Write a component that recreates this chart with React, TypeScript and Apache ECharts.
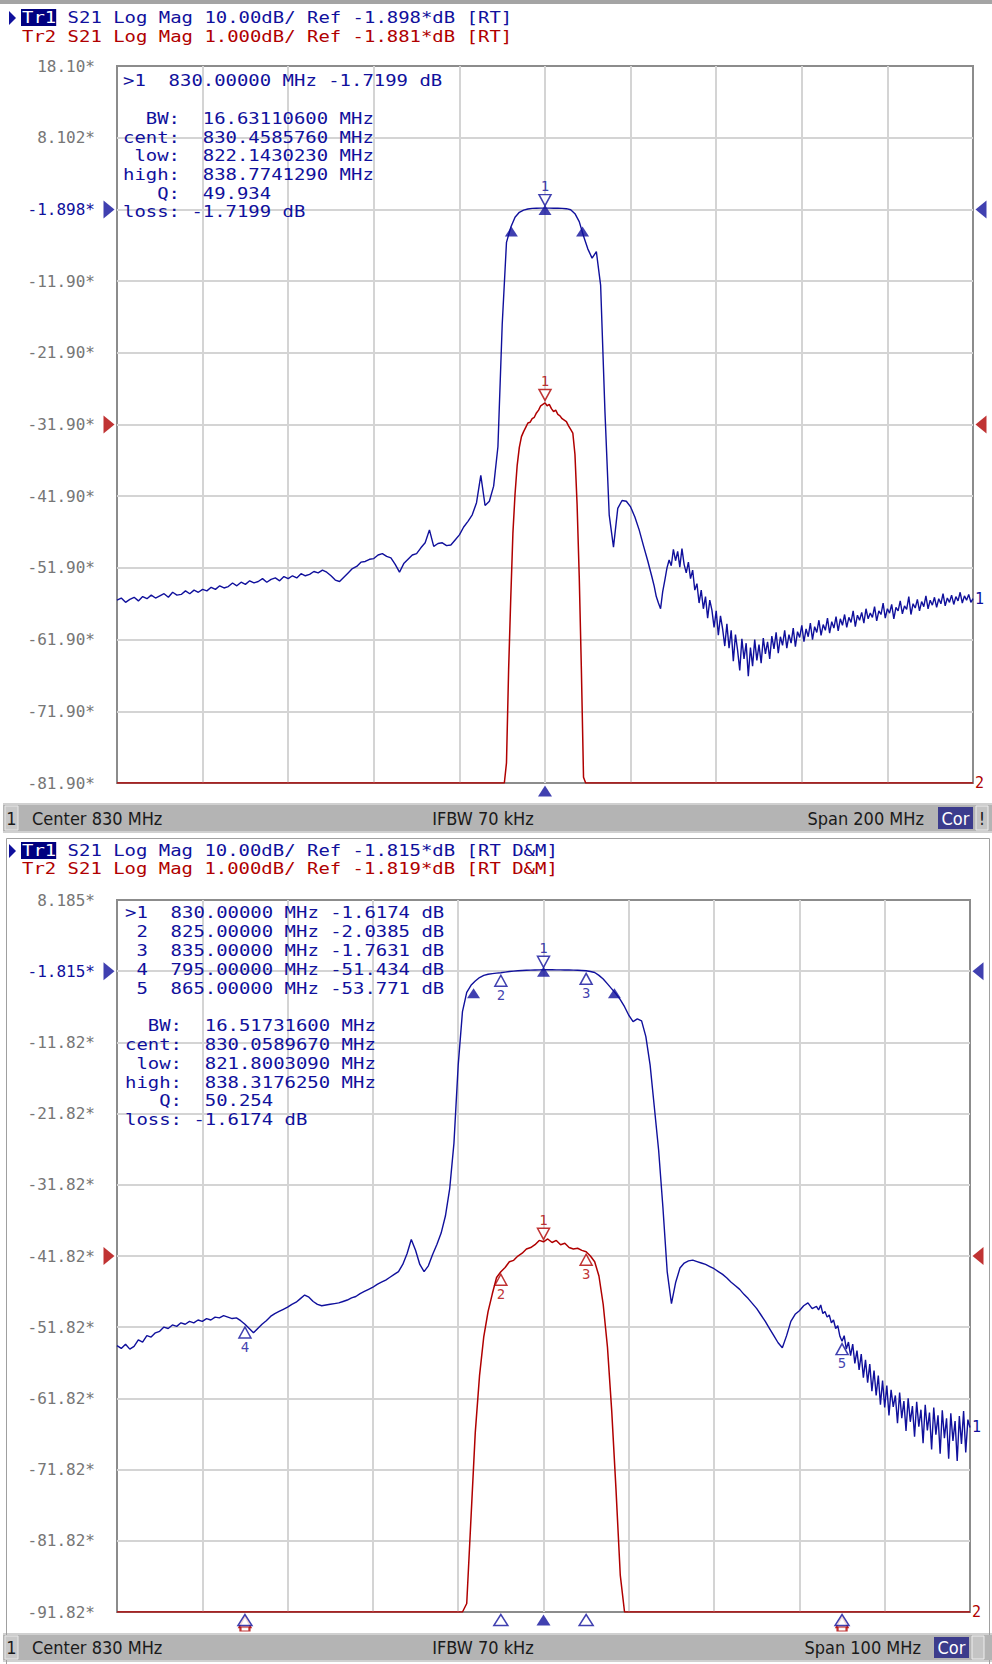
import React, { useEffect, useRef } from "react";
import * as echarts from "echarts";

// ---------------- colours ----------------
const BLUE = "#10109c";
const RED = "#b00000";
const GRID_GRAY = "#d4d4d4";
const LABEL_GRAY = "#767676";

// ---------------- window 1 (top) ----------------
const W1_START_MHZ = 730;
const W1_STOP_MHZ = 930;
// Tr1 S21, 10 dB/div — segment A: 730 .. 855 MHz, 1 MHz step
const W1_TR1_A_START = 730;
const W1_TR1_A_STEP = 1;
const W1_TR1_A_DB = [
  -56.4, -56.1, -56.7, -56.3, -56.0, -56.5, -55.9, -56.2, -55.7, -56.1,
  -55.8, -55.5, -56.0, -55.3, -55.7, -55.6, -55.1, -55.5, -55.0, -55.3,
  -54.9, -55.1, -54.6, -54.9, -54.4, -54.7, -54.5, -54.0, -54.4, -53.9,
  -54.2, -53.7, -54.0, -53.8, -53.4, -53.9, -53.5, -53.3, -53.7, -53.1,
  -53.4, -53.0, -53.3, -52.7, -53.0, -52.8, -52.4, -52.6, -52.2, -52.5,
  -53.0, -53.6, -53.8, -53.2, -52.6, -52.0, -51.7, -51.1, -51.0, -50.7,
  -50.6, -50.1, -49.9, -50.3, -50.5, -51.4, -52.5, -51.3, -50.7, -50.1,
  -49.9, -49.1, -48.4, -46.6, -48.9, -48.5, -48.4, -48.8, -48.7, -48.0,
  -47.3, -46.2, -45.4, -44.5, -42.8, -39.0, -43.2, -42.6, -40.5, -35.0,
  -18.0, -6.5, -4.4, -3.0, -2.3, -2.0, -1.85, -1.76, -1.73, -1.72,
  -1.72, -1.72, -1.73, -1.74, -1.76, -1.8, -1.95, -2.5, -3.6, -5.6,
  -7.4, -8.7, -7.8, -12.5, -30.0, -44.5, -49.0, -43.6, -42.5, -42.6,
  -43.4, -44.8, -46.6, -48.8, -50.9, -53.2,
];
// segment B: 855.5 .. 930 MHz, 0.5 MHz step (noisy stop band)
const W1_TR1_B_START = 855.5;
const W1_TR1_B_STEP = 0.5;
const W1_TR1_B_DB = [
  -54.4, -55.9, -56.8, -57.6, -55.2, -53.6, -51.9, -50.8, -51.6,
  -49.3, -50.9, -49.6, -51.8, -49.2, -51.4, -52.6, -51.1, -53.4, -52.2,
  -55.0, -54.1, -56.8, -55.0, -57.6, -55.9, -58.9, -56.4, -57.8, -60.2,
  -57.9, -61.3, -58.6, -60.4, -62.8, -59.7, -63.1, -60.6, -64.9, -61.2,
  -63.4, -66.2, -61.8, -64.6, -62.4, -67.0, -63.0, -65.6, -61.9, -64.8,
  -62.6, -65.2, -61.7, -63.9, -62.2, -64.6, -61.4, -63.2, -60.9, -63.8,
  -61.5, -62.7, -60.6, -63.1, -61.2, -62.4, -60.3, -62.9, -60.8, -61.6,
  -59.9, -62.2, -60.4, -61.5, -59.6, -61.9, -60.1, -60.9, -59.2, -61.3,
  -59.8, -60.6, -58.9, -61.0, -59.4, -60.3, -58.7, -60.7, -59.0, -59.9,
  -58.4, -60.2, -58.8, -59.5, -57.9, -60.1, -58.5, -59.2, -58.1, -59.6,
  -57.6, -59.0, -58.2, -58.8, -57.3, -59.3, -57.9, -58.4, -56.8, -58.9,
  -57.6, -58.2, -57.0, -59.0, -57.4, -57.9, -56.5, -58.3, -57.2, -57.7,
  -55.9, -58.4, -56.9, -57.5, -56.3, -57.9, -56.6, -57.3, -55.8, -57.6,
  -56.4, -57.1, -56.0, -57.4, -56.2, -56.9, -55.5, -57.2, -56.1, -56.7,
  -55.7, -57.0, -55.9, -56.5, -55.3, -56.8, -55.8, -56.4, -55.6, -56.7,
  -56.2,
];
// Tr2 S21, 1 dB/div, [MHz, dB]
const W1_TR2 = [
  [730, -56.5], [819, -35], [820.5, -12], [821.0, -6.6], [821.5, -5.3], [822.0, -4.3],
  [822.5, -3.4], [823.0, -2.85], [823.5, -2.45], [824.0, -2.2], [824.5, -2.05], [825, -1.98],
  [825.5, -1.92], [826, -1.86], [826.5, -1.85], [827, -1.8], [827.5, -1.78], [828, -1.72],
  [828.5, -1.68], [829, -1.62], [829.5, -1.6], [830, -1.58], [830.5, -1.62], [831, -1.6],
  [831.5, -1.66], [832, -1.7], [832.5, -1.68], [833, -1.74], [833.5, -1.76], [834, -1.8],
  [834.5, -1.82], [835, -1.84], [835.5, -1.9], [836, -1.95], [836.5, -2.0], [837, -2.3],
  [837.5, -3.0], [838, -4.0], [838.5, -5.3], [839, -6.8], [839.5, -12], [845, -48], [930, -56.5],
];
const W1_TR1_SCALE = [-81.9, 18.1];
const W1_TR2_SCALE = [-6.881, 3.119];
const W1_TR1_REF = -1.898;
const W1_TR2_REF = -1.881;
const W1_TICKS = ["18.10*", "8.102*", "-1.898*", "-11.90*", "-21.90*", "-31.90*", "-41.90*", "-51.90*", "-61.90*", "-71.90*", "-81.90*"];
const W1_REF_TICK = 2;
const W1_TR1_MARKERS = [["1", 830, -1.7199]];
const W1_TR2_MARKERS = [["1", 830, -1.58]];
const W1_BW_POINTS = [[822.143023, -4.7199], [830, -1.7199], [838.774129, -4.7199]];
const W1_HEADER = [
  "Tr1 S21 Log Mag 10.00dB/ Ref -1.898*dB [RT]",
  "Tr2 S21 Log Mag 1.000dB/ Ref -1.881*dB [RT]",
];
const W1_INFO = [
  ">1  830.00000 MHz -1.7199 dB",
  "",
  "  BW:  16.63110600 MHz",
  "cent:  830.4585760 MHz",
  " low:  822.1430230 MHz",
  "high:  838.7741290 MHz",
  "   Q:  49.934",
  "loss: -1.7199 dB",
];
const W1_STATUS = ["1", "Center 830 MHz", "IFBW 70 kHz", "Span 200 MHz", "Cor", "!"];

// ---------------- window 2 (bottom) ----------------
const W2_START_MHZ = 780;
const W2_STOP_MHZ = 880;
// segment A: 780 .. 862 MHz, 0.5 MHz step
const W2_TR1_A_START = 780;
const W2_TR1_A_STEP = 0.5;
const W2_TR1_A_DB = [
  -54.4, -54.8, -54.2, -54.9, -54.5, -53.6, -53.9, -53.0, -53.2, -52.6,
  -52.4, -51.8, -52.0, -51.5, -51.7, -51.2, -51.4, -51.0, -51.2, -50.8,
  -51.0, -50.6, -50.8, -50.4, -50.5, -50.2, -50.4, -50.6, -50.5, -50.9,
  -51.4, -52.0, -52.6, -52.0, -51.4, -50.9, -50.3, -49.9, -49.6, -49.3,
  -49.0, -48.6, -48.3, -47.8, -47.3, -47.6, -48.2, -48.6, -48.8, -48.7,
  -48.6, -48.5, -48.4, -48.2, -48.0, -47.7, -47.5, -47.1, -46.8, -46.5,
  -46.2, -45.8, -45.5, -45.2, -44.8, -44.4, -44.0, -43.0, -41.5, -39.5,
  -41.0, -43.0, -44.0, -43.2, -41.6, -40.2, -38.6, -36.2, -32.4, -26.0,
  -15.0, -7.5, -4.8, -3.8, -3.2, -2.7, -2.4, -2.25, -2.15, -2.08,
  -2.04, -1.95, -1.86, -1.8, -1.75, -1.71, -1.68, -1.66, -1.64, -1.63,
  -1.62, -1.62, -1.62, -1.63, -1.63, -1.64, -1.65, -1.66, -1.68, -1.72,
  -1.76, -1.85, -2.0, -2.4, -2.9, -3.6, -4.3, -5.0, -5.8, -6.8,
  -8.0, -8.9, -8.5, -8.8, -11.0, -15.0, -21.0, -27.0, -35.0, -44.0,
  -48.5, -45.5, -43.5, -42.8, -42.5, -42.4, -42.6, -42.8, -43.0, -43.3,
  -43.6, -44.0, -44.4, -44.9, -45.5, -46.0, -46.5, -47.2, -47.8, -48.5,
  -49.2, -50.1, -51.0, -52.0, -53.0, -54.0, -54.7, -53.0, -51.0, -50.0,
  -49.5, -48.8, -48.4, -49.2, -48.9,
];
// segment B: 862.25 .. 880 MHz, 0.25 MHz step (noisy)
const W2_TR1_B_START = 862.25;
const W2_TR1_B_STEP = 0.25;
const W2_TR1_B_DB = [
  -49.4, -48.7, -49.9,
  -49.6, -50.4, -50.1, -51.2, -50.8, -52.0, -51.6, -53.1,
  -53.8, -53.0, -54.9, -53.9, -55.8, -54.2, -56.9, -55.1,
  -57.8, -55.6, -58.9, -56.4, -59.6, -57.0, -60.8, -57.9,
  -61.4, -58.6, -62.7, -59.3, -63.1, -60.0, -64.2, -60.6,
  -63.0, -61.4, -65.3, -61.0, -64.6, -62.2, -66.4, -61.8,
  -65.1, -62.9, -67.2, -62.3, -65.8, -63.4, -68.1, -62.7,
  -66.3, -63.8, -69.0, -63.1, -66.9, -64.2, -69.6, -63.5,
  -67.4, -64.6, -70.3, -63.9, -67.8, -65.0, -70.6, -64.3,
  -68.2, -63.6, -69.4, -64.8, -65.9,
];
const W2_TR2 = [
  [780, -54.4], [819.5, -26], [820.5, -7.5], [821, -6.7], [821.5, -5.5], [822, -4.3],
  [822.5, -3.5], [823, -2.95], [823.5, -2.6], [824, -2.35], [824.5, -2.12], [825, -2.04],
  [825.5, -1.98], [826, -1.9], [826.5, -1.88], [827, -1.82], [827.5, -1.78], [828, -1.72],
  [828.5, -1.7], [829, -1.66], [829.5, -1.6], [830, -1.62], [830.5, -1.58], [831, -1.63],
  [831.5, -1.6], [832, -1.66], [832.5, -1.64], [833, -1.7], [833.5, -1.72], [834, -1.71],
  [834.5, -1.74], [835, -1.76], [835.5, -1.82], [836, -1.9], [836.5, -2.1], [837, -2.5],
  [837.5, -3.1], [838, -4.0], [838.5, -5.1], [839, -6.3], [839.5, -7.5], [844.5, -44], [880, -64],
];
const W2_TR1_SCALE = [-91.815, 8.185];
const W2_TR2_SCALE = [-6.819, 3.181];
const W2_TR1_REF = -1.815;
const W2_TR2_REF = -1.819;
const W2_TICKS = ["8.185*", "-1.815*", "-11.82*", "-21.82*", "-31.82*", "-41.82*", "-51.82*", "-61.82*", "-71.82*", "-81.82*", "-91.82*"];
const W2_REF_TICK = 1;
const W2_TR1_MARKERS = [["1", 830, -1.6174], ["2", 825, -2.0385], ["3", 835, -1.7631], ["4", 795, -51.434], ["5", 865, -53.771]];
const W2_TR2_MARKERS = [["1", 830, -1.62], ["2", 825, -2.04], ["3", 835, -1.76], ["4", 795, -51.43], ["5", 865, -53.77]];
const W2_BW_POINTS = [[821.800309, -4.6174], [830, -1.6174], [838.317625, -4.6174]];
const W2_HEADER = [
  "Tr1 S21 Log Mag 10.00dB/ Ref -1.815*dB [RT D&M]",
  "Tr2 S21 Log Mag 1.000dB/ Ref -1.819*dB [RT D&M]",
];
const W2_INFO = [
  ">1  830.00000 MHz -1.6174 dB",
  " 2  825.00000 MHz -2.0385 dB",
  " 3  835.00000 MHz -1.7631 dB",
  " 4  795.00000 MHz -51.434 dB",
  " 5  865.00000 MHz -53.771 dB",
  "",
  "  BW:  16.51731600 MHz",
  "cent:  830.0589670 MHz",
  " low:  821.8003090 MHz",
  "high:  838.3176250 MHz",
  "   Q:  50.254",
  "loss: -1.6174 dB",
];
const W2_STATUS = ["1", "Center 830 MHz", "IFBW 70 kHz", "Span 100 MHz", "Cor", ""];

// ---------------- drawing helpers ----------------
const MONO = '"DejaVu Sans Mono", "Liberation Mono", monospace';
const CW = 11.4;
const SX = CW / (16 * 0.602);
const DOWN_TRI = "path://M0,0L12,0L6,11Z";
const UP_TRI = "path://M6,0L12,11L0,11Z";
const RIGHT_TRI = "path://M0,0L10,8L0,16Z";
const LEFT_TRI = "path://M10,0L0,8L10,16Z";

function monoLine(str: string, x0: number, y: number, color: string, out: any[]) {
  const re = /\S+/g;
  let m: RegExpExecArray | null;
  while ((m = re.exec(str))) {
    out.push({
      type: "text",
      x: x0 + m.index * CW,
      y,
      scaleX: SX,
      z: 20,
      silent: true,
      style: { text: m[0], fill: color, font: `16px ${MONO}`, verticalAlign: "middle", textVerticalAlign: "middle" },
    });
  }
}

function statusBar(items: string[], y: number, h: number, spanRight: number, corX: number, out: any[]) {
  const font = '18px "Liberation Sans Narrow", "DejaVu Sans Condensed", sans-serif';
  const cy = y + h / 2;
  out.push({ type: "rect", shape: { x: 3, y: y - 2, width: 989, height: h + 4 }, style: { fill: "#d0d0d0" }, z: 1 });
  out.push({ type: "rect", shape: { x: 3, y, width: 989, height: h }, style: { fill: "#b4b4b4" }, z: 2 });
  out.push({ type: "rect", shape: { x: 5, y: y + 1, width: 13, height: h - 2 }, style: { fill: "#c8c8c8", stroke: "#e8e8e8", lineWidth: 1 }, z: 3 });
  const t = (text: string, x: number, align: string, fill = "#1a1a1a") => ({
    type: "text", x, y: cy, z: 4,
    style: { text, fill, font, align, textAlign: align, verticalAlign: "middle", textVerticalAlign: "middle" },
  });
  out.push(t(items[0], 11.5, "center"));
  out.push(t(items[1], 32, "left"));
  out.push(t(items[2], 483, "center"));
  out.push(t(items[3], spanRight, "right"));
  out.push({ type: "rect", shape: { x: corX, y: y + 2, width: 35, height: h - 4 }, style: { fill: "#3c3c8c" }, z: 3 });
  out.push(t(items[4], corX + 17.5, "center", "#ffffff"));
  out.push({ type: "rect", shape: { x: corX + 38, y: y + 1, width: 12, height: h - 2 }, style: { fill: "#c4c4c4", stroke: "#eeeeee", lineWidth: 1 }, z: 3 });
  out.push(t(items[5], corX + 44, "center"));
}

function header(lines: string[], x0: number, y1: number, y2: number, out: any[]) {
  out.push({ type: "polygon", shape: { points: [[9, y1 - 7], [16, y1], [9, y1 + 7]] }, style: { fill: BLUE }, z: 20 });
  out.push({ type: "rect", shape: { x: x0 - 1, y: y1 - 9, width: 3 * CW + 1, height: 17 }, style: { fill: "#000080" }, z: 19 });
  monoLine(lines[0].slice(0, 3), x0, y1, "#ffffff", out);
  monoLine("   " + lines[0].slice(3), x0, y1, BLUE, out);
  monoLine(lines[1], x0, y2, RED, out);
}

function clampPairs(pairs: number[][], scale: number[]) {
  return pairs.map(([f, v]) => [f, Math.min(scale[1], Math.max(scale[0], v))]);
}

function sweep(segments: { start: number; step: number; values: number[] }[]) {
  const out: number[][] = [];
  segments.forEach((s) => s.values.forEach((v, i) => out.push([s.start + i * s.step, v])));
  return out;
}

type Panel = {
  start: number; stop: number;
  tr1: number[][]; tr2: number[][];
  tr1Scale: number[]; tr2Scale: number[];
  tr1Ref: number; tr2Ref: number;
  ticks: string[]; refTick: number;
  tr1Markers: any[]; tr2Markers: any[]; bw: number[][];
  grid: { left: number; top: number; width: number; height: number };
};

function buildPanel(p: Panel, g: number, xAxis: any[], yAxis: any[], series: any[], grids: any[]) {
  grids.push({
    left: p.grid.left, top: p.grid.top, width: p.grid.width, height: p.grid.height,
    show: true, borderColor: "#8c8c8c", borderWidth: 2, backgroundColor: "#ffffff",
  });
  const xi = g * 2;
  const yi = g * 3;
  const split = { show: true, showMinLine: false, showMaxLine: false, lineStyle: { color: GRID_GRAY, width: 2 } };
  xAxis.push({ type: "value", gridIndex: g, min: p.start, max: p.stop, show: false });
  xAxis.push({
    type: "value", gridIndex: g, min: 0, max: 10, interval: 1,
    axisLine: { show: false }, axisTick: { show: false }, axisLabel: { show: false }, splitLine: split,
  });
  yAxis.push({ type: "value", gridIndex: g, min: p.tr1Scale[0], max: p.tr1Scale[1], show: false });
  yAxis.push({ type: "value", gridIndex: g, min: p.tr2Scale[0], max: p.tr2Scale[1], show: false });
  yAxis.push({
    type: "value", gridIndex: g, min: 0, max: 10, interval: 1, position: "left", offset: 0,
    axisLine: { show: false }, axisTick: { show: false }, splitLine: split,
    axisLabel: {
      margin: 22, fontFamily: MONO, fontSize: 16, color: LABEL_GRAY,
      formatter: (v: number) => {
        const idx = 10 - Math.round(v);
        const s = p.ticks[idx];
        return idx === p.refTick ? `{ref|${s}}` : s;
      },
      rich: { ref: { color: BLUE, fontFamily: MONO, fontSize: 16 } },
    },
  });

  const tr2Data = clampPairs(p.tr2, p.tr2Scale);
  const endLabel = (txt: string, color: string) => ({
    show: true, formatter: txt, color, fontFamily: MONO, fontSize: 15, distance: 2,
  });
  series.push({
    type: "line", xAxisIndex: xi, yAxisIndex: yi, data: p.tr1, symbol: "none", silent: true, z: 3,
    lineStyle: { color: BLUE, width: 1.4 }, itemStyle: { color: BLUE }, endLabel: endLabel("1", BLUE),
  });
  series.push({
    type: "line", xAxisIndex: xi, yAxisIndex: yi + 1, data: tr2Data, symbol: "none", silent: true, z: 4,
    lineStyle: { color: RED, width: 1.5 }, itemStyle: { color: RED }, endLabel: endLabel("2", RED),
  });

  const markerItems = (list: any[], scale: number[], color: string) =>
    list.map(([id, f, db], k) => {
      const clamped = db < scale[0];
      const active = k === 0;
      return {
        name: id,
        value: [f, clamped ? scale[0] : db],
        symbol: active ? DOWN_TRI : UP_TRI,
        symbolSize: [12, 11],
        symbolOffset: clamped ? [0, 10] : active ? [0, -8] : [0, 8],
        itemStyle: { color: "#ffffff", borderColor: color, borderWidth: 1.5 },
        label: {
          show: !clamped, position: active ? "top" : "bottom", distance: 1,
          formatter: "{b}", color, fontFamily: MONO, fontSize: 14,
        },
      };
    });
  series.push({
    type: "scatter", xAxisIndex: xi, yAxisIndex: yi, clip: false, silent: true, z: 6,
    data: markerItems(p.tr1Markers, p.tr1Scale, BLUE),
  });
  series.push({
    type: "scatter", xAxisIndex: xi, yAxisIndex: yi + 1, clip: false, silent: true, z: 6,
    data: markerItems(p.tr2Markers, p.tr2Scale, RED),
  });
  // off-scale Tr2 markers: small box under the triangle
  series.push({
    type: "scatter", xAxisIndex: xi, yAxisIndex: yi + 1, clip: false, silent: true, z: 6,
    symbol: "rect", symbolSize: [9, 4], symbolOffset: [0, 17],
    itemStyle: { color: "#ffffff", borderColor: RED, borderWidth: 1.5 },
    data: p.tr2Markers.filter((m: any) => m[2] < p.tr2Scale[0]).map((m: any) => [m[1], p.tr2Scale[0]]),
  });
  // bandwidth search points (filled)
  series.push({
    type: "scatter", xAxisIndex: xi, yAxisIndex: yi, clip: false, silent: true, z: 7,
    symbol: "triangle", symbolSize: [13, 10], symbolOffset: [0, 2],
    itemStyle: { color: BLUE }, data: p.bw,
  });
  // stimulus indicators below the grid
  series.push({
    type: "scatter", xAxisIndex: xi, yAxisIndex: yi, clip: false, silent: true, z: 7,
    symbol: UP_TRI, symbolSize: [14, 11], symbolOffset: [0, 8],
    data: p.tr1Markers.map(([id, f], k) => ({
      value: [f, p.tr1Scale[0]],
      itemStyle: k === 0 ? { color: BLUE } : { color: "#ffffff", borderColor: BLUE, borderWidth: 1.5 },
    })),
  });
  // reference level arrows
  const refArrows = (yIndex: number, ref: number, color: string) => ({
    type: "scatter", xAxisIndex: xi, yAxisIndex: yIndex, clip: false, silent: true, z: 8,
    itemStyle: { color },
    data: [
      { value: [p.start, ref], symbol: RIGHT_TRI, symbolSize: [11, 18], symbolOffset: [-8, 0] },
      { value: [p.stop, ref], symbol: LEFT_TRI, symbolSize: [11, 18], symbolOffset: [8, 0] },
    ],
  });
  series.push(refArrows(yi, p.tr1Ref, BLUE));
  series.push(refArrows(yi + 1, p.tr2Ref, RED));
}

export default function App() {
  const ref = useRef<HTMLDivElement>(null);
  useEffect(() => {
    if (!ref.current) return;
    const chart = echarts.init(ref.current, undefined, { renderer: "svg" });
    const xAxis: any[] = [];
    const yAxis: any[] = [];
    const series: any[] = [];
    const grids: any[] = [];
    buildPanel({
      start: W1_START_MHZ, stop: W1_STOP_MHZ,
      tr1: sweep([
        { start: W1_TR1_A_START, step: W1_TR1_A_STEP, values: W1_TR1_A_DB },
        { start: W1_TR1_B_START, step: W1_TR1_B_STEP, values: W1_TR1_B_DB },
      ]),
      tr2: W1_TR2,
      tr1Scale: W1_TR1_SCALE, tr2Scale: W1_TR2_SCALE, tr1Ref: W1_TR1_REF, tr2Ref: W1_TR2_REF,
      ticks: W1_TICKS, refTick: W1_REF_TICK, tr1Markers: W1_TR1_MARKERS, tr2Markers: W1_TR2_MARKERS,
      bw: W1_BW_POINTS, grid: { left: 117, top: 66, width: 856, height: 717 },
    }, 0, xAxis, yAxis, series, grids);
    buildPanel({
      start: W2_START_MHZ, stop: W2_STOP_MHZ,
      tr1: sweep([
        { start: W2_TR1_A_START, step: W2_TR1_A_STEP, values: W2_TR1_A_DB },
        { start: W2_TR1_B_START, step: W2_TR1_B_STEP, values: W2_TR1_B_DB },
      ]),
      tr2: W2_TR2,
      tr1Scale: W2_TR1_SCALE, tr2Scale: W2_TR2_SCALE, tr1Ref: W2_TR1_REF, tr2Ref: W2_TR2_REF,
      ticks: W2_TICKS, refTick: W2_REF_TICK, tr1Markers: W2_TR1_MARKERS, tr2Markers: W2_TR2_MARKERS,
      bw: W2_BW_POINTS, grid: { left: 117, top: 900, width: 853, height: 712 },
    }, 1, xAxis, yAxis, series, grids);

    const gfx: any[] = [];
    gfx.push({ type: "rect", shape: { x: 0, y: 0, width: 992, height: 4 }, style: { fill: "#a4a4a4" }, z: 1 });
    header(W1_HEADER, 22, 18, 36.5, gfx);
    header(W2_HEADER, 22, 851, 869, gfx);
    W1_INFO.forEach((line, i) => monoLine(line, 123, 81 + i * 18.7, BLUE, gfx));
    W2_INFO.forEach((line, i) => monoLine(line, 125, 913 + i * 18.8, BLUE, gfx));
    statusBar(W1_STATUS, 805, 26, 924, 938, gfx);
    statusBar(W2_STATUS, 1635, 25, 921, 934, gfx);
    gfx.push({
      type: "rect", shape: { x: 6.5, y: 838.5, width: 983, height: 830 },
      style: { fill: "none", stroke: "#a0a0a0", lineWidth: 1 }, z: 1, silent: true,
    });

    chart.setOption({
      animation: false,
      backgroundColor: "#ffffff",
      grid: grids,
      xAxis,
      yAxis,
      series,
      graphic: { elements: gfx },
    });
    return () => chart.dispose();
  }, []);
  return (
    <div
      ref={ref}
      style={{ position: "absolute", left: 0, top: 0, width: 992, height: 1664, background: "#fff" }}
    />
  );
}
